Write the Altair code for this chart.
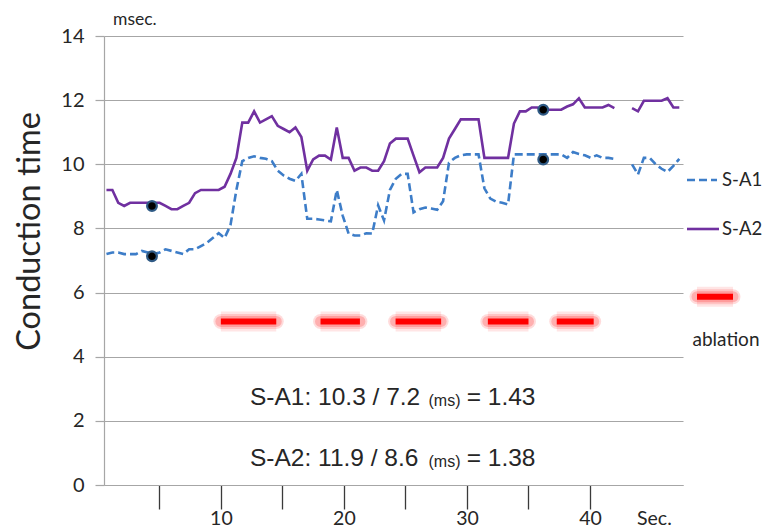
import altair as alt
import pandas as pd

# ---------------- data ----------------
sample_start = 0.7     # seconds, first sample
sample_step = 0.48     # seconds between samples

s_a1 = [7.2, 7.25, 7.25, 7.2, 7.2, 7.2, 7.3, 7.25, 7.2, 7.25,
        7.35, 7.3, 7.25, 7.2, 7.35, 7.35, 7.45, 7.55, 7.7, 7.85,
        7.7, 8.1, 9.2, 10.1, 10.2, 10.25, 10.2, 10.17, 10.1, 9.8,
        9.65, 9.55, 9.48, 9.7, 8.3, 8.3, 8.28, 8.25, 8.22, 9.2,
        8.4, 7.84, 7.78, 7.78, 7.85, 7.84, 8.72, 8.25, 9.2, 9.55,
        9.7, 9.7, 8.5, 8.6, 8.65, 8.62, 8.58, 8.85, 10.05, 10.2,
        10.28, 10.31, 10.31, 10.31, 9.25, 8.93, 8.83, 8.8, 8.75, 10.31,
        10.31, 10.31, 10.31, 10.31, 10.31, 10.31, 10.31, 10.31, 10.2, 10.38,
        10.32, 10.28, 10.2, 10.28, 10.2, 10.2, 10.17, None, None, 10.0,
        9.68, 10.2, 10.2, 10.0, 9.86, 9.76, 9.95, 10.17]

s_a2 = [9.2, 9.2, 8.8, 8.7, 8.8, 8.8, 8.8, 8.8, 8.8, 8.8,
        8.7, 8.6, 8.6, 8.7, 8.8, 9.1, 9.2, 9.2, 9.2, 9.2,
        9.3, 9.7, 10.2, 11.3, 11.3, 11.65, 11.3, 11.4, 11.5, 11.2,
        11.1, 11.0, 11.15, 10.85, 9.8, 10.15, 10.27, 10.27, 10.15, 11.15,
        10.2, 10.2, 9.8, 9.9, 9.9, 9.8, 9.8, 10.1, 10.65, 10.8,
        10.8, 10.8, 10.27, 9.75, 9.9, 9.9, 9.9, 10.2, 10.8, 11.1,
        11.4, 11.4, 11.4, 11.4, 10.2, 10.2, 10.2, 10.2, 10.2, 11.27,
        11.65, 11.65, 11.77, 11.77, 11.7, 11.7, 11.7, 11.7, 11.8, 11.87,
        12.06, 11.77, 11.77, 11.77, 11.77, 11.85, 11.75, None, None, 11.75,
        11.65, 11.98, 11.98, 11.98, 11.98, 12.06, 11.77, 11.77]

marker_time = [4.4, 4.4, 36.2, 36.2]
marker_value = [7.13, 8.7, 10.15, 11.7]

ablation_start = [10.0, 18.1, 24.2, 31.7, 37.3]
ablation_end = [14.5, 21.3, 27.9, 35.0, 40.3]
ablation_level = 5.1

x_tick_values = [5, 10, 15, 20, 25, 30, 35, 40]
y_tick_values = [0, 2, 4, 6, 8, 10, 12, 14]

series_names = ["S-A1", "S-A2"]
ratio_lines = [("S-A1: 10.3 / 7.2", "(ms)", "= 1.43"),
               ("S-A2: 11.9 / 8.6", "(ms)", "= 1.38")]

# ---------------- styling / layout ----------------
W, H = 579, 449
X_DOMAIN = [0.5, 47.56]
Y_DOMAIN = [0, 14]
C_A1 = "#3d7dc8"
C_A2 = "#7030a0"
GRID = "#a6a6a6"
TXT = "#262626"
FONT = "Lato"
ARIAL = "Liberation Sans"

assert len(s_a1) == len(s_a2) == 98

rows = []
for name, vals in zip(series_names, [s_a1, s_a2]):
    seg = 0
    for i, v in enumerate(vals):
        if v is None:
            seg = 1
            continue
        rows.append({"t": sample_start + sample_step * i, "v": v,
                     "series": name, "seg": seg})
lines_df = pd.DataFrame(rows)

xs = alt.Scale(domain=X_DOMAIN, nice=False, zero=False)
ys = alt.Scale(domain=Y_DOMAIN, nice=False, zero=False)

x_enc = alt.X("t:Q", scale=xs, axis=alt.Axis(
    values=x_tick_values, title=None, grid=False,
    tickSize=24, tickColor="#3a3a3a", tickWidth=1.3,
    domainColor=GRID, domainWidth=1.2,
    labelExpr="datum.value % 10 == 0 ? datum.label : ''",
    labelFont=FONT, labelFontSize=19.5, labelColor=TXT,
    labelBaseline="alphabetic", labelPadding=15.5))
y_enc = alt.Y("v:Q", scale=ys, axis=alt.Axis(
    values=y_tick_values, title="Conduction time",
    grid=True, gridColor=GRID, gridWidth=1.2,
    tickSize=9, tickColor=GRID, tickWidth=1.2,
    domainColor=GRID, domainWidth=1.2,
    labelFont=FONT, labelFontSize=20, labelColor=TXT, labelPadding=11,
    titleFont=FONT, titleFontSize=32.5, titleFontWeight="normal", titleColor=TXT,
    titleX=-75, titleY=195, titleAngle=270, titleAlign="center",
    titleBaseline="middle"))

base_lines = alt.Chart(lines_df)
line_a1 = base_lines.transform_filter(alt.datum.series == "S-A1").mark_line(
    color=C_A1, strokeWidth=2.6, strokeDash=[8, 4]).encode(
    x=x_enc, y=y_enc, detail="seg:N")
line_a2 = base_lines.transform_filter(alt.datum.series == "S-A2").mark_line(
    color=C_A2, strokeWidth=2.6).encode(
    x="t:Q", y="v:Q", detail="seg:N")

markers_df = pd.DataFrame({"t": marker_time, "v": marker_value})
markers = alt.Chart(markers_df).mark_point(
    filled=True, shape="circle", size=95, fill="black",
    stroke="#2f5a85", strokeWidth=2.2, opacity=1).encode(x="t:Q", y="v:Q")

abl_df = pd.DataFrame({"t": ablation_start, "t2": ablation_end,
                       "v": [ablation_level] * len(ablation_start)})
abl_base = alt.Chart(abl_df)
glows = []
for sw, op, cap in [(20, 0.10, "butt"), (15, 0.14, "round"), (11, 0.2, "round")]:
    glows.append(abl_base.mark_rule(color="#ff0000", strokeWidth=sw,
                                    opacity=op, strokeCap=cap).encode(
        x="t:Q", x2="t2:Q", y="v:Q"))
abl_core = abl_base.mark_rule(color="#ff0000", strokeWidth=6,
                              strokeCap="butt").encode(x="t:Q", x2="t2:Q", y="v:Q")

# ---- annotation text (pixel layout relative to plot area) ----
one = pd.DataFrame({"k": [0]})
texts = []
for (p1, p2, p3), base_y in zip(ratio_lines, [369, 429.7]):
    texts.append(alt.Chart(one).mark_text(text=p1, font=ARIAL, fontSize=24.5,
                 color=TXT, align="left", baseline="alphabetic").encode(
        x=alt.value(146), y=alt.value(base_y)))
    texts.append(alt.Chart(one).mark_text(text=p2, font=ARIAL, fontSize=16,
                 color=TXT, align="left", baseline="alphabetic").encode(
        x=alt.value(324.5), y=alt.value(base_y + 1)))
    texts.append(alt.Chart(one).mark_text(text=p3, font=ARIAL, fontSize=24.5,
                 color=TXT, align="left", baseline="alphabetic").encode(
        x=alt.value(362.7), y=alt.value(base_y)))

# unit labels
texts.append(alt.Chart(one).mark_text(text="msec.", font=FONT, fontSize=17.5,
             color=TXT, align="left", baseline="alphabetic").encode(
    x=alt.value(9), y=alt.value(-11.5)))
texts.append(alt.Chart(one).mark_text(text="Sec.", font=FONT, fontSize=19.5,
             color=TXT, align="left", baseline="alphabetic").encode(
    x=alt.value(533), y=alt.value(488.5)))

# ---- legend (drawn by hand, outside plot area) ----
leg = []
leg.append(alt.Chart(one).mark_rule(color=C_A1, strokeWidth=2.6,
           strokeDash=[8, 4]).encode(x=alt.value(583), x2=alt.value(613),
                                     y=alt.value(144)))
leg.append(alt.Chart(one).mark_text(text=series_names[0], font=FONT, fontSize=18.5,
           color=TXT, align="left", baseline="middle").encode(
    x=alt.value(618), y=alt.value(144)))
leg.append(alt.Chart(one).mark_rule(color=C_A2, strokeWidth=2.6).encode(
    x=alt.value(583), x2=alt.value(615), y=alt.value(193)))
leg.append(alt.Chart(one).mark_text(text=series_names[1], font=FONT, fontSize=18.5,
           color=TXT, align="left", baseline="middle").encode(
    x=alt.value(618), y=alt.value(193)))
for sw, op, cap in [(20, 0.10, "butt"), (15, 0.14, "round"), (11, 0.2, "round")]:
    leg.append(alt.Chart(one).mark_rule(color="#ff0000", strokeWidth=sw,
               opacity=op, strokeCap=cap).encode(
        x=alt.value(593), x2=alt.value(629), y=alt.value(260.7)))
leg.append(alt.Chart(one).mark_rule(color="#ff0000", strokeWidth=6,
           strokeCap="butt").encode(x=alt.value(593), x2=alt.value(629),
                                    y=alt.value(260.7)))
leg.append(alt.Chart(one).mark_text(text="ablation", font=FONT, fontSize=19,
           color=TXT, align="center", baseline="middle").encode(
    x=alt.value(622), y=alt.value(304)))

chart = alt.layer(line_a1, line_a2, *glows, abl_core, markers, *texts, *leg).properties(
    width=W, height=H,
    autosize=alt.AutoSizeParams(type="none"),
    padding={"left": 96, "top": 28, "right": 80, "bottom": 45},
    background="white",
).configure_view(strokeWidth=0)

chart.save("out.html", embed_options={"renderer": "svg", "actions": False})
